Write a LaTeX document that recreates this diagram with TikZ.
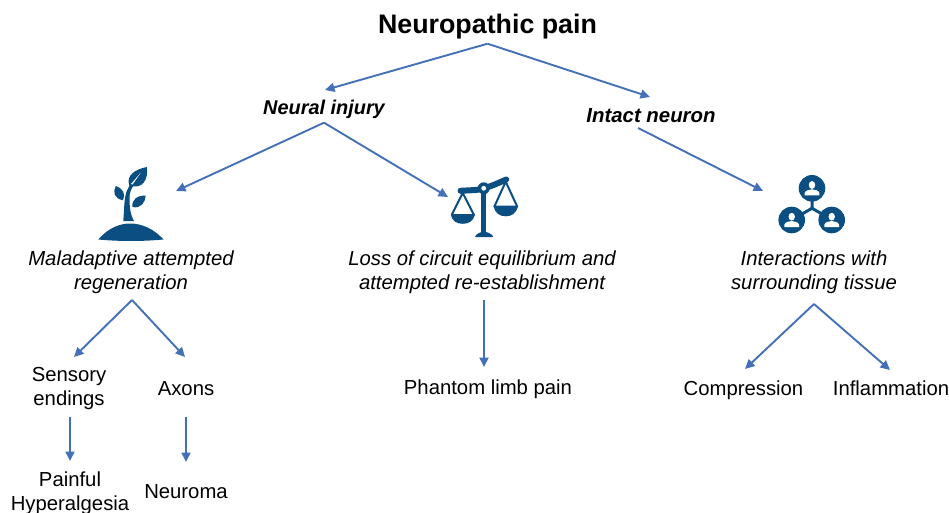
\documentclass[tikz,border=0pt]{standalone}
\usepackage{fontspec}
\setmainfont{Liberation Sans}
\usetikzlibrary{arrows.meta}
\definecolor{arrowblue}{HTML}{4470B8}
\definecolor{iconblue}{HTML}{0B4F82}
\tikzset{
  conn/.style={draw=arrowblue,line width=1.9pt,-{Triangle[length=9.5pt,width=9pt]}},
  label/.style={inner sep=0pt,align=center,font=\fontsize{20.3}{24}\selectfont,text=black},
  ilabel/.style={label,font=\fontsize{20.3}{24}\selectfont\itshape},
  hlabel/.style={inner sep=0pt,font=\fontsize{19.9}{24}\selectfont\bfseries\itshape,text=black},
  icon/.style={fill=iconblue,draw=none},
  iconline/.style={draw=iconblue,line cap=round,line join=round},
}
\begin{document}
\begin{tikzpicture}[x=1pt,y=-1pt]
\useasboundingbox (0,0) rectangle (949,513);
% texts
\node[inner sep=0pt,font=\fontsize{26.8}{30}\selectfont\bfseries,minimum height=34pt] (root) at (487.5,26.5) {Neuropathic pain};
\node[hlabel,minimum height=27pt] (neural) at (324,109) {Neural injury};
\node[hlabel,font=\fontsize{20.4}{24}\selectfont\bfseries\itshape] (intact) at (651,116) {Intact neuron};
\node[ilabel] (mal) at (131,272) {Maladaptive attempted\\regeneration};
\node[ilabel] (loss) at (482,272) {Loss of circuit equilibrium and\\attempted re-establishment};
\node[ilabel] (inter) at (814,272) {Interactions with\\surrounding tissue};
\node[label] (sens) at (69,389) {Sensory\\endings};
\node[label] (axons) at (186,389) {Axons};
\node[label] (phantom) at (488,389) {Phantom limb pain};
\node[label] (comp) at (743.5,390) {Compression};
\node[label] (infl) at (891,388.5) {Inflammation};
\node[label] (painful) at (70,493) {Painful\\Hyperalgesia};
\node[label] (neuroma) at (186,492) {Neuroma};
% connector ports
\coordinate (introot) at (638,128);
\coordinate (plantp) at (176,191);
\coordinate (scalep) at (448,197);
\coordinate (netp) at (763,191);
\coordinate (malp) at (132,300);
\coordinate (lossp) at (484,300);
\coordinate (interp) at (814,304);
\coordinate (sensin) at (74,357);
\coordinate (axin) at (185,357);
\coordinate (sensout) at (70,417);
\coordinate (axout) at (186,417);
\coordinate (painin) at (70,461);
\coordinate (neuromain) at (186,462);
\coordinate (phin) at (484,367);
\coordinate (compin) at (745,369);
\coordinate (inflin) at (890,370);
\coordinate (intin) at (650,97);
\coordinate (neurin) at (325,90);
% connectors
\draw[conn] (root.south) -- (neurin);
\draw[conn] (root.south) -- (intin);
\draw[conn] (neural.south) -- (plantp);
\draw[conn] (neural.south) -- (scalep);
\draw[conn] (introot) -- (netp);
\draw[conn] (malp) -- (sensin);
\draw[conn] (malp) -- (axin);
\draw[conn] (sensout) -- (painin);
\draw[conn] (axout) -- (neuromain);
\draw[conn] (lossp) -- (phin);
\draw[conn] (interp) -- (compin);
\draw[conn] (interp) -- (inflin);
% plant icon
\fill[icon] (98.3,239.5) .. controls (108,228) and (120,223.5) .. (130,223.5) .. controls (142,223.5) and (154,229) .. (163.5,239.5) .. controls (142,241.5) and (120,241.5) .. (98.3,239.5) -- cycle;
\fill[icon] (123.3,221) .. controls (124.5,205) and (124,195) .. (128.3,188) .. controls (130,184) and (132,181.5) .. (135,179) -- (136,182) .. controls (132,187) and (129.5,192) .. (129.5,197) .. controls (129.5,206) and (130,214) .. (134,221) -- cycle;
\fill[icon] (146.9,167) .. controls (148.5,179) and (143,190) .. (129.3,185.5) .. controls (126,176) and (134,169.5) .. (146.9,167) -- cycle;
\fill[white] (131,184) -- (141,172.5) -- (132.5,184.5) -- cycle;
\fill[icon] (123,200.3) .. controls (114,198.5) and (112.5,192) .. (115.8,186) .. controls (123,188.5) and (126,194) .. (123,200.3) -- cycle;
\fill[icon] (132.5,207) .. controls (131.5,199.5) and (137,195.5) .. (145.7,195.5) .. controls (145.5,202) and (141,209) .. (132.5,207) -- cycle;
% scales icon
\draw[iconline,line width=6pt] (460.5,190.8) -- (476,190) .. controls (488,188) and (496,184) .. (506.3,179.5);
\draw[iconblue,line width=5.5pt] (483.7,188) -- (483.7,233);
\fill[icon] (475,237) .. controls (475.5,233.5) and (481,232.5) .. (483.7,231) .. controls (487,232.5) and (492.5,233.5) .. (493.3,237) -- cycle;
\fill[icon] (483.7,188.3) circle[radius=6pt];
\fill[white] (483.7,188.3) circle[radius=2.4pt];
\draw[iconline,line width=2pt] (451.7,215) -- (462.7,193) -- (474,215);
\fill[icon] (451,214) -- (474.7,214) .. controls (474,221.5) and (468,223.8) .. (462.8,223.8) .. controls (457,223.8) and (451.7,221.5) .. (451,214) -- cycle;
\draw[iconline,line width=2pt] (494.3,206.7) -- (505.7,181.7) -- (517.3,206.7);
\fill[icon] (493.8,205.7) -- (517.8,205.7) .. controls (517,213.5) and (511,216.3) .. (505.8,216.3) .. controls (500,216.3) and (494.5,213.5) .. (493.8,205.7) -- cycle;
% network icon
\draw[iconline,line width=3pt] (812,195) -- (812,208.3) -- (795,218);
\draw[iconline,line width=3pt] (812,208.3) -- (829,218);
\foreach \cx/\cy in {812/188.3,791.7/220,831.7/220}{
  \fill[icon] (\cx,\cy) circle[radius=13.3pt];
  \fill[white] (\cx,\cy-3.3) ellipse[x radius=3.2pt,y radius=3.9pt];
  \fill[white] (\cx-7.3,\cy+7) -- (\cx-7.3,\cy+4.5) .. controls (\cx-6.5,\cy+2) and (\cx-3,\cy+1.5) .. (\cx,\cy+1) .. controls (\cx+3,\cy+1.5) and (\cx+6.5,\cy+2) .. (\cx+7.3,\cy+4.5) -- (\cx+7.3,\cy+7) -- cycle;
}
\end{tikzpicture}
\end{document}
